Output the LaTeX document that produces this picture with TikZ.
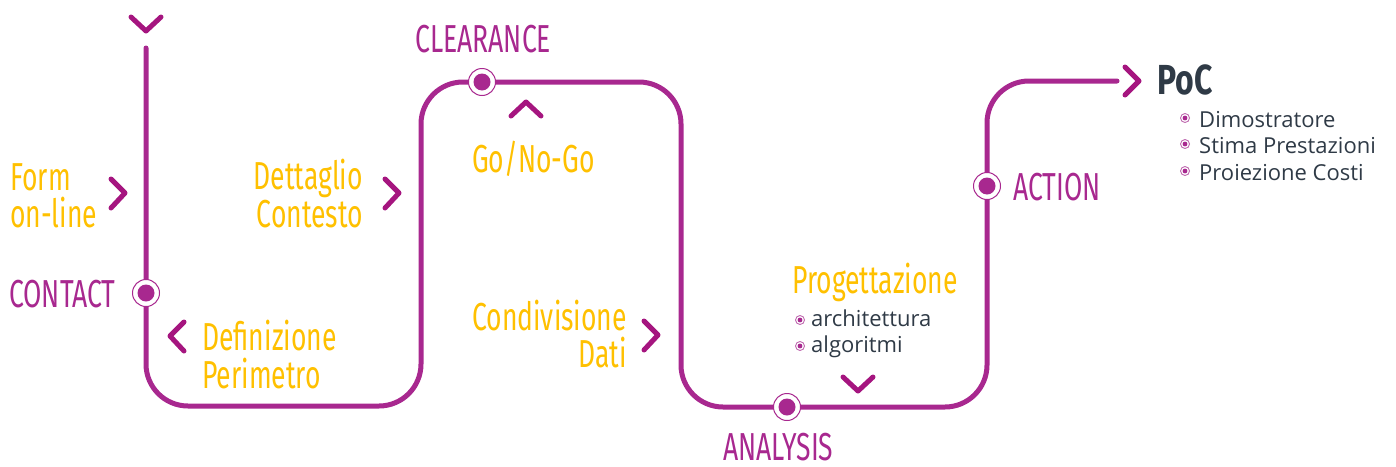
\documentclass[tikz,border=0pt]{standalone}
\usepackage{fontspec}
\setmainfont{Open Sans}
\newfontfamily\cond{Fira Sans}[FakeStretch=0.68]
\newfontfamily\condb{Fira Sans}[FakeStretch=0.76,BoldFont={Fira Sans Bold}]
\newfontfamily\body{Open Sans}
\definecolor{pathcol}{HTML}{A8288F}
\definecolor{chevcol}{HTML}{A5157F}
\definecolor{yel}{HTML}{FFC000}
\definecolor{darktxt}{HTML}{2F3A46}
\definecolor{ringcol}{HTML}{C06AB0}
\tikzset{
  road/.style={draw=pathcol, line width=5pt, line cap=round, rounded corners=42pt},
  chev/.style={draw=chevcol, line width=5pt, line cap=round, line join=round},
  milestone/.style={circle, draw=pathcol, line width=1pt, fill=white, minimum size=27pt, inner sep=0pt},
  steptxt/.style={inner sep=0pt, text=yel, font=\cond\fontsize{39}{39}\selectfont},
  phasetxt/.style={inner sep=0pt, text=pathcol, font=\cond\fontsize{39}{39}\selectfont},
  bullettxt/.style={inner sep=0pt, text=darktxt, font=\body\fontsize{22}{22}\selectfont},
  bulletmark/.style={circle, draw=ringcol, line width=0.9pt, fill=white, minimum size=9pt, inner sep=0pt},
}
\begin{document}
\begin{tikzpicture}[x=1pt,y=-1pt]
\useasboundingbox (0,0) rectangle (1396,466);
% road coordinates
\coordinate (start) at (146,48);
\coordinate (k1) at (146,406);
\coordinate (k2) at (421,406);
\coordinate (k3) at (421,82);
\coordinate (k4) at (681,82);
\coordinate (k5) at (681,407);
\coordinate (k6) at (987,407);
\coordinate (k7) at (987,81);
\coordinate (finish) at (1117,81);
\draw[road] (start) -- (k1) -- (k2) -- (k3) -- (k4) -- (k5) -- (k6) -- (k7) -- (finish);
% milestones
\node[milestone] (contact) at (146,293) {};
\node[milestone] (clearance) at (482,82) {};
\node[milestone] (analysis) at (787,407) {};
\node[milestone] (action) at (987,186) {};
\foreach \m in {contact,clearance,analysis,action}{\fill[pathcol] (\m) circle (8.5pt);}
% chevrons
\draw[chev] (131,17) -- (146,31) -- (161,17);
\draw[chev] (111,179) -- (125,193) -- (111,208);
\draw[chev] (385,179) -- (399,193) -- (385,208);
\draw[chev] (184,322) -- (170,336) -- (184,351);
\draw[chev] (644,321) -- (658,335) -- (644,350);
\draw[chev] (511,116) -- (526,102) -- (541,116);
\draw[chev] (843,377) -- (858,391) -- (873,377);
\draw[chev] (1125,67) -- (1139,81) -- (1125,95);
% phase labels
\node[phasetxt, anchor=base west] (tcontact) at (9,307) {CONTACT};
\node[phasetxt, anchor=base west] (tclear) at (415,52) {CLEARANCE};
\node[phasetxt, anchor=base west] (tanal) at (723,460) {ANALYSIS};
\node[phasetxt, anchor=base west] (taction) at (1013,200) {ACTION};
% step labels
\node[steptxt, anchor=base west] (form1) at (10,190) {Form};
\node[steptxt, anchor=base west] (form2) at (10,227) {on-line};
\node[steptxt, anchor=base east] (dett1) at (363,189) {Dettaglio};
\node[steptxt, anchor=base east] (dett2) at (363,227) {Contesto};
\node[steptxt, anchor=base west] (def1) at (202,350) {Definizione};
\node[steptxt, anchor=base west] (def2) at (202,388) {Perimetro};
\node[steptxt, anchor=base west] (gonogo) at (472,172) {Go/No-Go};
\node[steptxt, anchor=base east] (cond1) at (627,330) {Condivisione};
\node[steptxt, anchor=base east] (cond2) at (627,367) {Dati};
\node[steptxt, anchor=base west] (prog) at (792,293) {Progettazione};
% PoC
\node[inner sep=0pt, anchor=base west, text=darktxt, font=\condb\bfseries\fontsize{42}{42}\selectfont] (poc) at (1157,94) {PoC};
% bullets
\node[bullettxt, anchor=base west] (arch) at (811,326) {architettura};
\node[bullettxt, anchor=base west] (algo) at (811,352) {algoritmi};
\node[bullettxt, anchor=base west] (dimo) at (1199,127) {Dimostratore};
\node[bullettxt, anchor=base west] (stima) at (1199,153) {Stima Prestazioni};
\node[bullettxt, anchor=base west] (proi) at (1199,180) {Proiezione Costi};
\foreach \y in {320,346}{\node[bulletmark] at (800,\y) {}; \fill[pathcol] (800,\y) circle (2.4pt);}
\foreach \y in {118,144,171}{\node[bulletmark] at (1185,\y) {}; \fill[pathcol] (1185,\y) circle (2.4pt);}
\end{tikzpicture}
\end{document}
